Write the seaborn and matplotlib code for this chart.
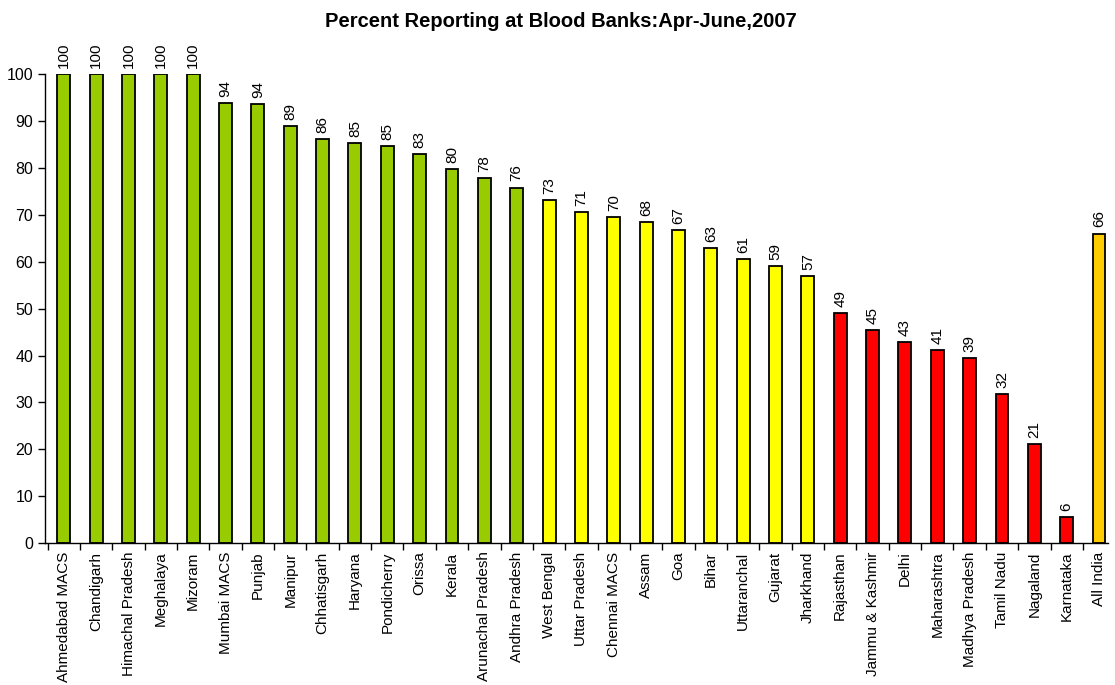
import matplotlib
matplotlib.use("Agg")
import matplotlib.pyplot as plt
import seaborn as sns
import pandas as pd

states = ["Ahmedabad MACS", "Chandigarh", "Himachal Pradesh", "Meghalaya", "Mizoram",
          "Mumbai MACS", "Punjab", "Manipur", "Chhatisgarh", "Haryana", "Pondicherry",
          "Orissa", "Kerala", "Arunachal Pradesh", "Andhra Pradesh", "West Bengal",
          "Uttar Pradesh", "Chennai MACS", "Assam", "Goa", "Bihar", "Uttaranchal",
          "Gujarat", "Jharkhand", "Rajasthan", "Jammu & Kashmir", "Delhi", "Maharashtra",
          "Madhya Pradesh", "Tamil Nadu", "Nagaland", "Karnataka", "All India"]
percent = [100, 100, 100, 100, 100, 93.9, 93.6, 88.9, 86.1, 85.3, 84.6, 83.0, 79.8,
           77.8, 75.8, 73.1, 70.6, 69.5, 68.4, 66.7, 62.9, 60.6, 59.1, 56.9, 49.1,
           45.4, 42.8, 41.2, 39.4, 31.8, 21.2, 5.6, 66.0]
groups = ["high"] * 15 + ["mid"] * 9 + ["low"] * 8 + ["total"]
palette = {"high": "#99CC00", "mid": "#FFFF00", "low": "#FF0000", "total": "#FFCC00"}

df = pd.DataFrame({"state": states, "percent": percent, "group": groups})

sns.set_style("white")
plt.rcParams["font.family"] = ["Liberation Sans", "DejaVu Sans"]
plt.rcParams["text.color"] = "black"
plt.rcParams["xtick.color"] = "black"
plt.rcParams["ytick.color"] = "black"
plt.rcParams["xtick.labelcolor"] = "black"
plt.rcParams["ytick.labelcolor"] = "black"

fig = plt.figure(figsize=(11.15, 6.85), dpi=100)
ax = fig.add_axes([0.0404, 0.207, 0.9534, 0.685])

sns.barplot(data=df, x="state", y="percent", hue="group", palette=palette,
            dodge=False, width=0.4, saturation=1, edgecolor="black", linewidth=1.3,
            legend=False, ax=ax)

for patch, v in zip(sorted(ax.patches, key=lambda p: p.get_x()), percent):
    ax.text(patch.get_x() + patch.get_width() / 2, v + 1.3, f"{v:.0f}",
            rotation=90, ha="center", va="bottom", fontsize=11, color="black",
            clip_on=False)

ax.set_ylim(0, 100)
ax.set_xlim(-0.58, len(states) - 0.72)
ax.set_yticks(range(0, 101, 10))
ax.set_xticks([i for i in range(len(states))])
ax.set_xticklabels(states, rotation=90, fontsize=11)
ax.tick_params(axis="x", length=0, pad=6)
ax.tick_params(axis="y", length=5, width=1, labelsize=11.5, direction="out", left=True)
ax.set_xticks([i + 0.5 for i in range(-1, len(states) - 1)], minor=True)
ax.tick_params(axis="x", which="minor", length=5, width=1, direction="out", bottom=True)
ax.set_xlabel("")
ax.set_ylabel("")
for s in ["top", "right"]:
    ax.spines[s].set_visible(False)
for s in ["left", "bottom"]:
    ax.spines[s].set_color("black")
    ax.spines[s].set_linewidth(1)

fig.suptitle("Percent Reporting at Blood Banks:Apr-June,2007", y=0.983,
             fontsize=14.5, fontweight="bold", x=0.503)

fig.savefig("out.png", dpi=100)
